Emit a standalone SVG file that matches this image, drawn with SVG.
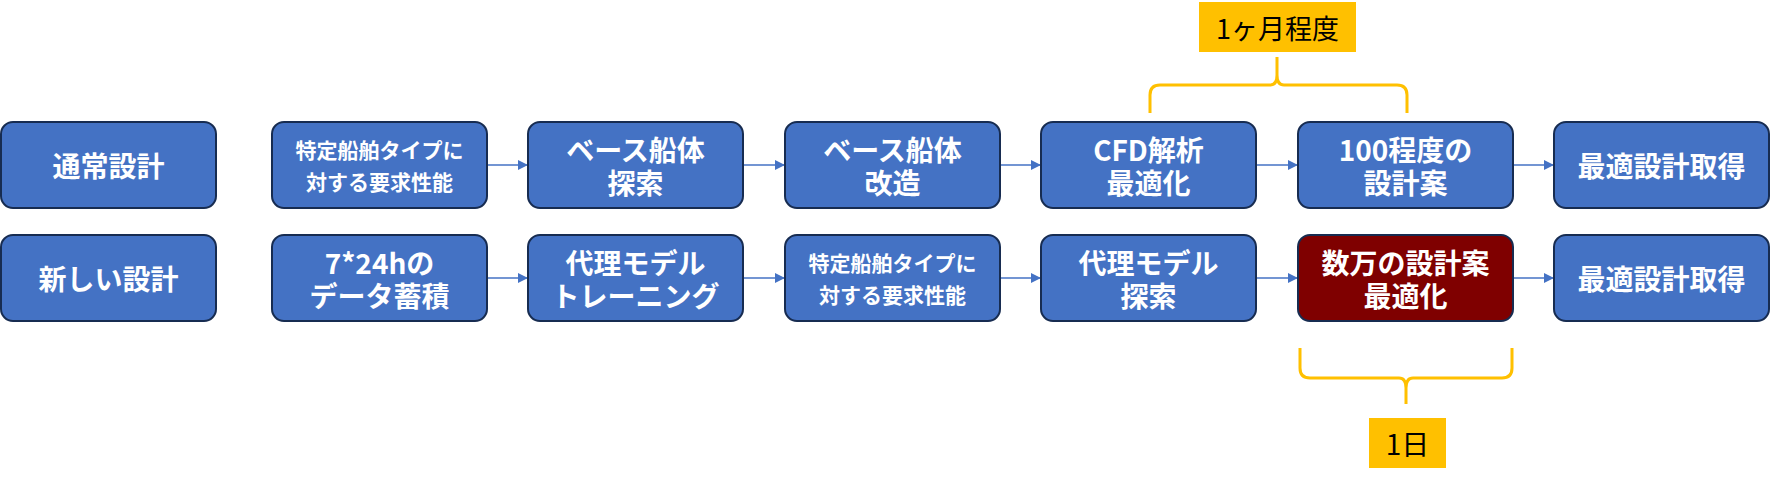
<svg xmlns="http://www.w3.org/2000/svg" width="1771" height="479" viewBox="0 0 1771 479">
<defs>
<style>
.box{fill:#4472C4;stroke:#172C51;stroke-width:2}
.red{fill:#7F0000;stroke:#172C51;stroke-width:2}
.t{font-family:"Noto Sans CJK JP","Noto Sans",sans-serif;font-weight:bold;fill:#fff;text-anchor:middle;dominant-baseline:central}
.big{font-size:28px}
.sm{font-size:21px}
.lbl{fill:#FFC000}
.lt{font-family:"Noto Sans CJK JP","Noto Sans",sans-serif;font-size:27px;fill:#000;text-anchor:middle;dominant-baseline:central}
.conn{stroke:#4472C4;stroke-width:1.5;fill:none}
.brace{stroke:#FFC000;stroke-width:3;fill:none}
</style>
<marker id="ah" viewBox="0 0 10 10" refX="10" refY="5" markerWidth="10" markerHeight="10" markerUnits="userSpaceOnUse" orient="auto">
<path d="M0,0 L10,5 L0,10 z" fill="#4472C4"/>
</marker>
</defs>
<rect width="1771" height="479" fill="#fff"/>

<g id="connectors">
<line class="conn" x1="487" y1="165" x2="528" y2="165" marker-end="url(#ah)"/>
<line class="conn" x1="743" y1="165" x2="785" y2="165" marker-end="url(#ah)"/>
<line class="conn" x1="1000" y1="165" x2="1041" y2="165" marker-end="url(#ah)"/>
<line class="conn" x1="1256" y1="165" x2="1298" y2="165" marker-end="url(#ah)"/>
<line class="conn" x1="1513" y1="165" x2="1554" y2="165" marker-end="url(#ah)"/>
<line class="conn" x1="487" y1="278" x2="528" y2="278" marker-end="url(#ah)"/>
<line class="conn" x1="743" y1="278" x2="785" y2="278" marker-end="url(#ah)"/>
<line class="conn" x1="1000" y1="278" x2="1041" y2="278" marker-end="url(#ah)"/>
<line class="conn" x1="1256" y1="278" x2="1298" y2="278" marker-end="url(#ah)"/>
<line class="conn" x1="1513" y1="278" x2="1554" y2="278" marker-end="url(#ah)"/>
</g>

<g id="n-normal"><rect class="box" x="1" y="122" width="215" height="86" rx="12"/><text class="t big" x="108.5" y="165">通常設計</text></g>
<g id="n-req1"><rect class="box" x="272" y="122" width="215" height="86" rx="12"/><text class="t sm" x="379.5" y="149">特定船舶タイプに</text><text class="t sm" x="379.5" y="181">対する要求性能</text></g>
<g id="n-base-search"><rect class="box" x="528" y="122" width="215" height="86" rx="12"/><text class="t big" x="635.5" y="149">ベース船体</text><text class="t big" x="635.5" y="182">探索</text></g>
<g id="n-base-mod"><rect class="box" x="785" y="122" width="215" height="86" rx="12"/><text class="t big" x="892.5" y="149">ベース船体</text><text class="t big" x="892.5" y="182">改造</text></g>
<g id="n-cfd"><rect class="box" x="1041" y="122" width="215" height="86" rx="12"/><text class="t big" x="1148.5" y="149">CFD解析</text><text class="t big" x="1148.5" y="182">最適化</text></g>
<g id="n-100"><rect class="box" x="1298" y="122" width="215" height="86" rx="12"/><text class="t big" x="1405.5" y="149">100程度の</text><text class="t big" x="1405.5" y="182">設計案</text></g>
<g id="n-opt1"><rect class="box" x="1554" y="122" width="215" height="86" rx="12"/><text class="t big" x="1661.5" y="165">最適設計取得</text></g>

<g id="n-new"><rect class="box" x="1" y="235" width="215" height="86" rx="12"/><text class="t big" x="108.5" y="278">新しい設計</text></g>
<g id="n-data"><rect class="box" x="272" y="235" width="215" height="86" rx="12"/><text class="t big" x="379.5" y="262">7*24hの</text><text class="t big" x="379.5" y="295">データ蓄積</text></g>
<g id="n-train"><rect class="box" x="528" y="235" width="215" height="86" rx="12"/><text class="t big" x="635.5" y="262">代理モデル</text><text class="t big" x="635.5" y="295">トレーニング</text></g>
<g id="n-req2"><rect class="box" x="785" y="235" width="215" height="86" rx="12"/><text class="t sm" x="892.5" y="262">特定船舶タイプに</text><text class="t sm" x="892.5" y="294">対する要求性能</text></g>
<g id="n-surr"><rect class="box" x="1041" y="235" width="215" height="86" rx="12"/><text class="t big" x="1148.5" y="262">代理モデル</text><text class="t big" x="1148.5" y="295">探索</text></g>
<g id="n-many"><rect class="red" x="1298" y="235" width="215" height="86" rx="12"/><text class="t big" x="1405.5" y="262">数万の設計案</text><text class="t big" x="1405.5" y="295">最適化</text></g>
<g id="n-opt2"><rect class="box" x="1554" y="235" width="215" height="86" rx="12"/><text class="t big" x="1661.5" y="278">最適設計取得</text></g>

<g id="brace-top">
<path class="brace" d="M1150,113 L1150,95 Q1150,85 1160,85 L1270,85 Q1277,85 1277,75 L1277,57 M1277,75 Q1277,85 1284,85 L1397,85 Q1407,85 1407,95 L1407,113"/>
</g>
<g id="label-month"><rect class="lbl" x="1199" y="2" width="157" height="50"/><text class="lt" x="1277.5" y="27">1ヶ月程度</text></g>

<g id="brace-bottom">
<path class="brace" d="M1300,348 L1300,368 Q1300,378 1310,378 L1399,378 Q1406,378 1406,388 L1406,404 M1406,388 Q1406,378 1413,378 L1502,378 Q1512,378 1512,368 L1512,348"/>
</g>
<g id="label-day"><rect class="lbl" x="1369" y="418" width="77" height="50"/><text class="lt" x="1407.5" y="443" style="font-size:28px">1日</text></g>
</svg>
